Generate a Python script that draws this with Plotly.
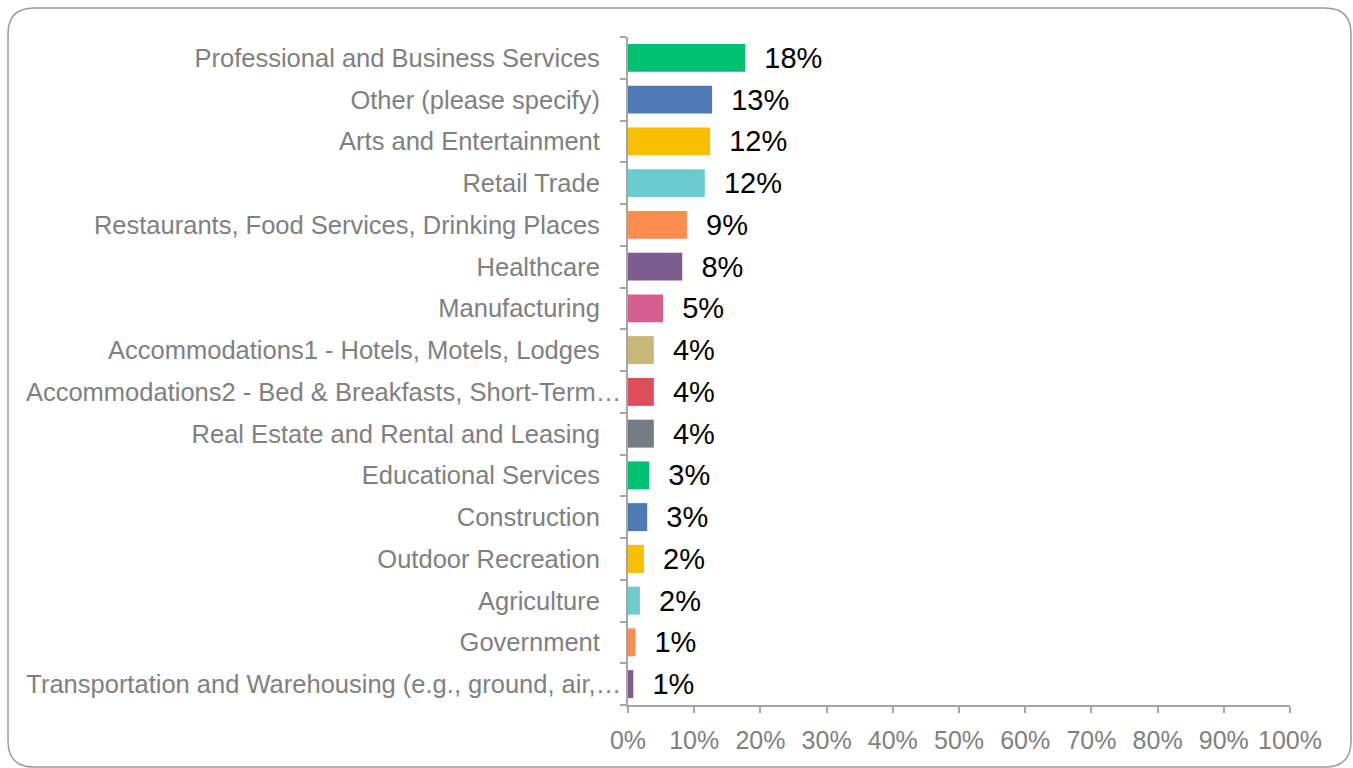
import plotly.graph_objects as go

# Share of respondents by industry
industries = [
    "Professional and Business Services",
    "Other (please specify)",
    "Arts and Entertainment",
    "Retail Trade",
    "Restaurants, Food Services, Drinking Places",
    "Healthcare",
    "Manufacturing",
    "Accommodations1 - Hotels, Motels, Lodges",
    "Accommodations2 - Bed & Breakfasts, Short-Term…",
    "Real Estate and Rental and Leasing",
    "Educational Services",
    "Construction",
    "Outdoor Recreation",
    "Agriculture",
    "Government",
    "Transportation and Warehousing (e.g., ground, air,…",
]
shares = [0.177, 0.127, 0.124, 0.116, 0.089, 0.082, 0.053, 0.039,
          0.039, 0.039, 0.032, 0.029, 0.024, 0.018, 0.011, 0.008]
bar_colors = [
    "#00C172", "#4D79B5", "#F9BE00", "#6BCBCF", "#FF8C4F", "#7D5C8E",
    "#D45E8E", "#C8B77A", "#DC4E5B", "#757C84",
    "#00C172", "#4D79B5", "#F9BE00", "#6BCBCF", "#FF8C4F", "#7D5C8E",
]
x_ticks = [i / 10 for i in range(11)]

W, H = 1353, 768
L, R, T, B = 628, 63, 37, 63
GRAY = "#808080"
AXIS = "#a6a6a6"
FONT = "Liberation Sans, Arial, sans-serif"

# full labels sit a little further from the axis than truncated ones
tick_text = [s if s.endswith("…") else s + "\u00a0" * 3 for s in industries]

fig = go.Figure(go.Bar(
    x=shares,
    y=industries,
    orientation="h",
    marker=dict(color=bar_colors, line=dict(width=0)),
    texttemplate="  %{x:.0%}",
    textposition="outside",
    constraintext="none",
    textfont=dict(family=FONT, size=29, color="#000000"),
    cliponaxis=False,
    hoverinfo="skip",
))

# rounded frame around the whole chart, built in paper coordinates
pw, ph = W - L - R, H - T - B
def px(x):
    return (x - L) / pw
def py(y):
    return (H - B - y) / ph

x0, y0, x1, y1, r = 8, 8, 1351, 767, 26
frame = (
    f"M {px(x0 + r)},{py(y0)} L {px(x1 - r)},{py(y0)} "
    f"Q {px(x1)},{py(y0)} {px(x1)},{py(y0 + r)} "
    f"L {px(x1)},{py(y1 - r)} Q {px(x1)},{py(y1)} {px(x1 - r)},{py(y1)} "
    f"L {px(x0 + r)},{py(y1)} Q {px(x0)},{py(y1)} {px(x0)},{py(y1 - r)} "
    f"L {px(x0)},{py(y0 + r)} Q {px(x0)},{py(y0)} {px(x0 + r)},{py(y0)} Z"
)

fig.update_layout(
    width=W, height=H,
    margin=dict(l=L, r=R, t=T, b=B),
    paper_bgcolor="white",
    plot_bgcolor="white",
    bargap=0.33,
    showlegend=False,
    font=dict(family=FONT, color=GRAY),
    shapes=[dict(type="path", path=frame, xref="paper", yref="paper",
                 line=dict(color="#999999", width=1.5), layer="below")],
    xaxis=dict(
        range=[0, 1],
        tickvals=x_ticks,
        tickformat=".0%",
        showgrid=False,
        zeroline=False,
        showline=True,
        linecolor=AXIS,
        linewidth=1.5,
        ticks="outside",
        ticklen=6,
        tickcolor=AXIS,
        tickwidth=1.5,
        ticklabelstandoff=6,
        tickfont=dict(size=25, color=GRAY),
        fixedrange=True,
    ),
    yaxis=dict(
        autorange="reversed",
        tickmode="array",
        tickvals=industries,
        ticktext=tick_text,
        showgrid=False,
        zeroline=False,
        showline=True,
        linecolor=AXIS,
        linewidth=1.5,
        ticks="outside",
        tickson="boundaries",
        ticklen=6,
        tickcolor=AXIS,
        tickwidth=1.5,
        ticklabelstandoff=0,
        tickfont=dict(size=25.5, color=GRAY),
        fixedrange=True,
    ),
)

fig.write_html("out.html", config={"displayModeBar": False})
